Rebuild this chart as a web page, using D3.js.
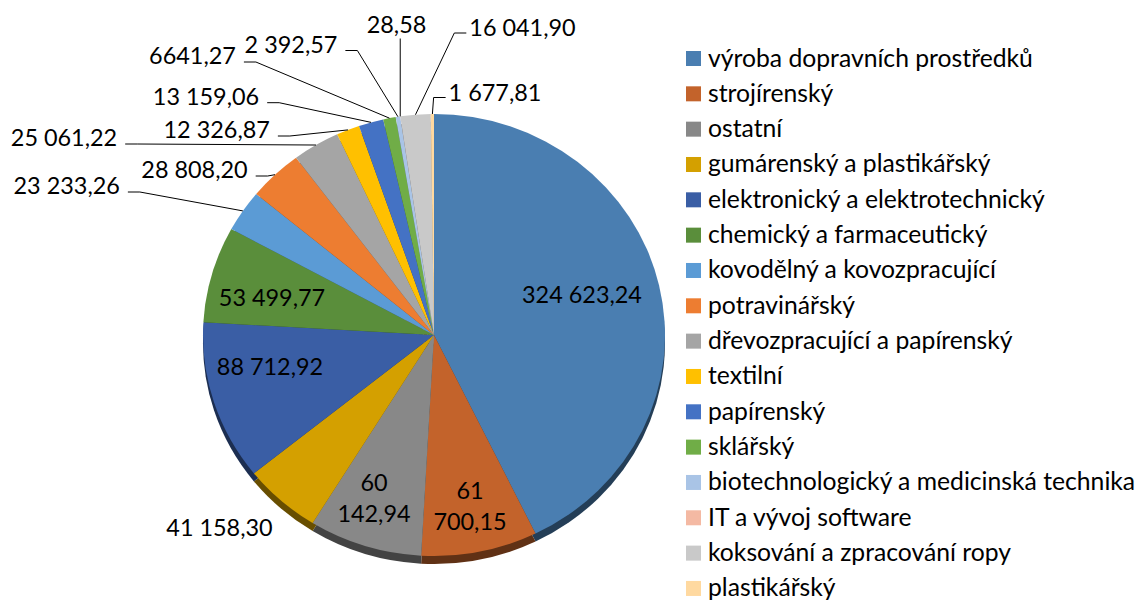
<!DOCTYPE html>
<html><head><meta charset="utf-8">
<script src="https://cdn.jsdelivr.net/npm/d3@7"></script>
<style>html,body{margin:0;padding:0;background:#fff;overflow:hidden}</style>
</head><body><svg id="chart" width="1138" height="600"></svg>
<script>
// ---------- DATA ----------
const categories = [
  "výroba dopravních prostředků",
  "strojírenský",
  "ostatní",
  "gumárenský a plastikářský",
  "elektronický a elektrotechnický",
  "chemický a farmaceutický",
  "kovodělný a kovozpracující",
  "potravinářský",
  "dřevozpracující a papírenský",
  "textilní",
  "papírenský",
  "sklářský",
  "biotechnologický a medicinská technika",
  "IT a vývoj software",
  "koksování a zpracování ropy",
  "plastikářský"
];
const values = [
  324623.24, 61700.15, 60142.94, 41158.30, 88712.92, 53499.77, 23233.26, 28808.20,
  25061.22, 12326.87, 13159.06, 6641.27, 2392.57, 28.58, 16041.90, 1677.81
];
const valueLabels = [
  "324 623,24", "61 700,15", "60 142,94", "41 158,30", "88 712,92", "53 499,77",
  "23 233,26", "28 808,20", "25 061,22", "12 326,87", "13 159,06", "6641,27",
  "2 392,57", "28,58", "16 041,90", "1 677,81"
];
const colors = [
  "#4A7EB1", "#C3632B", "#888888", "#D4A000", "#3A5EA5", "#5A8E3B", "#5B9BD5", "#ED7D31",
  "#A5A5A5", "#FFC000", "#4472C4", "#70AD47", "#A9C4E6", "#F4B9A3", "#C9C9C9", "#FFD9A0"
];

// ---------- LAYOUT ----------
const W = 1138, H = 600;
const cx = 434, cy = 335, rx = 231, ry = 221, depth = 8;
const FONT = "Lato, 'Open Sans', sans-serif";
// label placement: [index, centerX, centerY, kind]
const labelLayout = [
  [0, 582, 295, "in"], [1, 470, 506, "in2"], [2, 374, 498, "in2"], [3, 219.5, 527.5, "out"],
  [4, 270, 367, "in"], [5, 272, 298, "in"], [6, 66.7, 186, "L"], [7, 194.5, 170, "L"],
  [8, 64, 138, "L"], [9, 216.7, 130, "L"], [10, 206, 96.7, "L"], [11, 192.5, 56, "L"],
  [12, 291, 44.5, "L"], [13, 396.5, 24.5, "V"], [14, 522.5, 28, "R"], [15, 495, 92.5, "R"]
];
const legendX = 686, legendY0 = 58.5, legendStep = 35.33, swatch = 15;

const svg = d3.select("#chart");
svg.append("rect").attr("width", W).attr("height", H).attr("fill", "#fff");

function fitSize(text, target) {
  const t = svg.append("text").attr("font-family", FONT).attr("font-size", 100).text(text);
  const w = t.node().getComputedTextLength();
  t.remove();
  return 100 * target / w;
}
const legendFs = fitSize(categories[0], 325);
const labelFs = fitSize(valueLabels[0], 120);

// ---------- PIE ----------
const pieData = d3.pie().sort(null).value(d => d)(values);
const arcGen = d3.arc().innerRadius(0).outerRadius(rx);

const rimG = svg.append("g").attr("transform", `translate(${cx},${cy + depth}) scale(1,${ry / rx})`);
rimG.selectAll("path").data(pieData).join("path")
  .attr("d", arcGen)
  .attr("fill", (d, i) => d3.color(colors[i]).darker(2).formatHex());

const faceG = svg.append("g").attr("transform", `translate(${cx},${cy}) scale(1,${ry / rx})`);
faceG.selectAll("path").data(pieData).join("path")
  .attr("d", arcGen)
  .attr("fill", (d, i) => colors[i]);

function edgePoint(i) {
  const a = (pieData[i].startAngle + pieData[i].endAngle) / 2;
  return [cx + rx * Math.sin(a), cy - ry * Math.cos(a)];
}

// ---------- LABELS ----------
const lg = svg.append("g").attr("font-family", FONT).attr("font-size", labelFs).attr("fill", "#000");
const base = labelFs * 0.36;
labelLayout.forEach(([i, x, y, kind]) => {
  if (kind === "in2") {
    const parts = valueLabels[i].split(" ");
    const first = parts.shift();
    lg.append("text").attr("x", x).attr("y", y - 15.8 + base).attr("text-anchor", "middle").text(first);
    lg.append("text").attr("x", x).attr("y", y + 15.8 + base).attr("text-anchor", "middle").text(parts.join(" "));
    return;
  }
  const t = lg.append("text").attr("x", x).attr("y", y + base).attr("text-anchor", "middle").text(valueLabels[i]);
  const w = t.node().getComputedTextLength();
  const [px, py] = edgePoint(i);
  let pts = null;
  if (kind === "L") {
    const xr = x + w / 2;
    pts = [[xr + 8, y + 6], [xr + 20, y + 6], [px, py]];
  } else if (kind === "R") {
    const xl = x - w / 2;
    pts = [[xl - 3, y + 5], [xl - 15, y + 5], [px, py]];
  } else if (kind === "V") {
    pts = [[px, y + 14], [px, py]];
  }
  if (pts) {
    svg.append("path").attr("d", d3.line()(pts))
      .attr("fill", "none").attr("stroke", "#000").attr("stroke-width", 1);
  }
});

// ---------- LEGEND ----------
const leg = svg.append("g").attr("font-family", FONT).attr("font-size", legendFs).attr("fill", "#000");
categories.forEach((c, i) => {
  const yc = legendY0 + i * legendStep;
  leg.append("rect").attr("x", legendX).attr("y", yc - swatch / 2)
    .attr("width", swatch).attr("height", swatch).attr("fill", colors[i]);
  leg.append("text").attr("x", legendX + 22).attr("y", yc + 8).text(c);
});
</script>
</body></html>
